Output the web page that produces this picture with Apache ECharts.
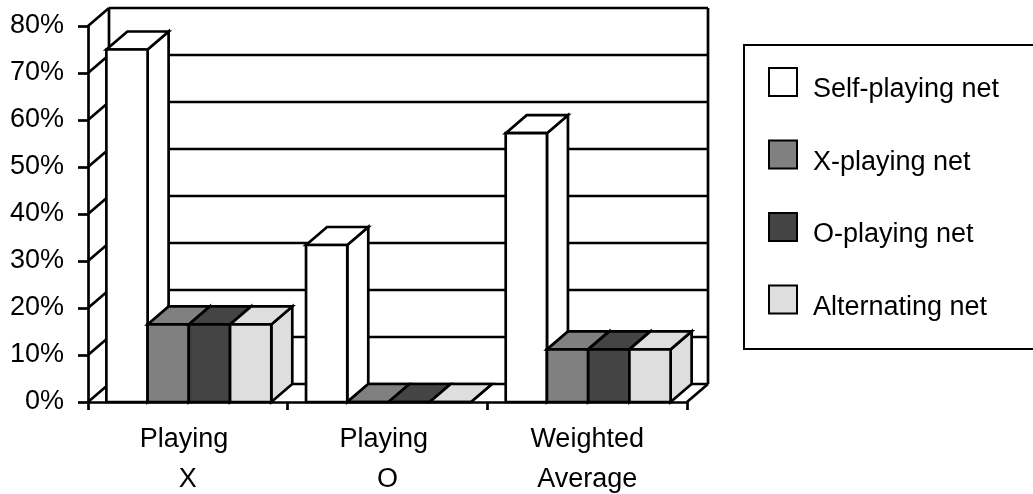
<!DOCTYPE html>
<html>
<head>
<meta charset="utf-8">
<style>html,body{margin:0;padding:0;background:#fff}#c{width:1033px;height:494px}</style>
<script src="https://cdn.jsdelivr.net/npm/echarts@6/dist/echarts.min.js"></script>
</head>
<body>
<div id="c"></div>
<script>
var categories = ['Playing \nX', 'Playing \nO', 'Weighted\nAverage'];
var seriesNames = ['Self-playing net', 'X-playing net', 'O-playing net', 'Alternating net'];
var selfPlaying = [75, 33.4, 57.2];
var xPlaying = [16.5, 0, 11.2];
var oPlaying = [16.5, 0, 11.2];
var alternating = [16.5, 0, 11.2];
var colors = ['#ffffff', '#808080', '#444444', '#dedede'];
var yTicks = [0, 10, 20, 30, 40, 50, 60, 70, 80];

var DX = 21, DY = 18, LW = 2.7, FONT = 'Liberation Sans', FS = 27;
var lineStyle = { stroke: '#000', lineWidth: LW, fill: null };

function wallItem(params, api) {
  var cs = params.coordSys;
  var p = api.coord([0, api.value(0)]);
  var left = cs.x, right = cs.x + cs.width, y = p[1];
  var kids = [
    { type: 'line', shape: { x1: left, y1: y, x2: left + DX, y2: y - DY }, style: lineStyle },
    { type: 'line', shape: { x1: left + DX, y1: y - DY, x2: right + DX, y2: y - DY }, style: lineStyle }
  ];
  if (params.dataIndex === 0) {
    var top = cs.y;
    kids.push({ type: 'line', shape: { x1: left + DX, y1: y - DY, x2: left + DX, y2: top - DY }, style: lineStyle });
    kids.push({ type: 'line', shape: { x1: right + DX, y1: y - DY, x2: right + DX, y2: top - DY }, style: lineStyle });
    kids.push({ type: 'line', shape: { x1: right, y1: y, x2: right + DX, y2: y - DY }, style: lineStyle });
  }
  return { type: 'group', children: kids };
}

function barRenderer(idx) {
  return function (params, api) {
    var cat = api.value(0), val = api.value(1);
    var top = api.coord([cat, val]), base = api.coord([cat, 0]);
    var w = api.size([1, 0])[0] * 0.2065;
    var x0 = top[0] + (idx - 2) * w + 1, x1 = x0 + w;
    var yt = top[1], yb = base[1];
    var st = { fill: colors[idx], stroke: '#000', lineWidth: LW, lineJoin: 'miter' };
    var kids = [
      { type: 'polygon', shape: { points: [[x1, yb], [x1 + DX, yb - DY], [x1 + DX, yt - DY], [x1, yt]] }, style: st },
      { type: 'polygon', shape: { points: [[x0, yt], [x0 + DX, yt - DY], [x1 + DX, yt - DY], [x1, yt]] }, style: st },
      { type: 'rect', shape: { x: x0, y: yt, width: w, height: yb - yt }, style: st }
    ];
    return { type: 'group', children: kids };
  };
}

var valueArrays = [selfPlaying, xPlaying, oPlaying, alternating];
var series = [{
  type: 'custom', silent: true, z: 1,
  data: yTicks.map(function (t) { return [t]; }),
  encode: { y: 0 },
  renderItem: wallItem
}];
seriesNames.forEach(function (name, i) {
  series.push({
    type: 'custom', name: name, z: 2 + i,
    itemStyle: { color: colors[i], borderColor: '#000', borderWidth: 2.7 },
    data: valueArrays[i].map(function (v, c) { return [c, v]; }),
    encode: { x: 0, y: 1 },
    renderItem: barRenderer(i)
  });
});

var chart = echarts.init(document.getElementById('c'), null, { renderer: 'canvas' });
chart.setOption({
  animation: false,
  backgroundColor: '#fff',
  textStyle: { fontFamily: FONT },
  grid: { left: 88, right: 346, top: 26, bottom: 92, outerBoundsMode: 'none' },
  xAxis: {
    type: 'category', data: categories, boundaryGap: true, z: 20,
    axisLine: { lineStyle: { color: '#000', width: LW } },
    axisTick: { show: true, length: 8, lineStyle: { color: '#000', width: LW } },
    axisLabel: { interval: 0, color: '#000', fontFamily: FONT, fontSize: FS, lineHeight: 40, margin: 18 }
  },
  yAxis: {
    type: 'value', min: 0, max: 80, interval: 10, z: 20,
    splitLine: { show: false },
    axisLine: { show: true, lineStyle: { color: '#000', width: LW } },
    axisTick: { show: true, length: 10, lineStyle: { color: '#000', width: LW } },
    axisLabel: { formatter: '{value}%', color: '#000', fontFamily: FONT, fontSize: FS, margin: 24 }
  },
  legend: {
    show: true, orient: 'vertical', left: 744, top: 45,
    padding: [22, 80, 28, 24],
    itemWidth: 28, itemHeight: 28, itemGap: 36,
    backgroundColor: '#fff', borderColor: '#000', borderWidth: 2,
    selectedMode: false,
    icon: 'rect',
    formatter: function (n) { return '{t|' + n + '}'; },
    textStyle: {
      color: '#000', fontFamily: FONT, fontSize: FS,
      rich: { t: { color: '#000', fontFamily: FONT, fontSize: FS, padding: [16, 0, 0, 11] } }
    },
    data: seriesNames
  },
  series: series
});
</script>
</body>
</html>
